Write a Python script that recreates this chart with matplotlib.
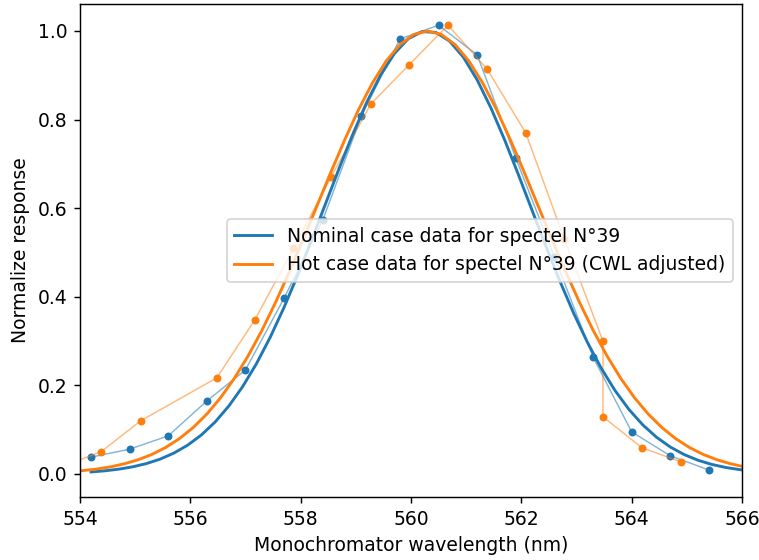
import matplotlib
matplotlib.use("Agg")
import matplotlib.pyplot as plt

# Mesures (points) - cas nominal
nom_wl = [554.2, 554.9, 555.6, 556.3, 557.0, 557.7, 558.4, 559.1, 559.8,
          560.5, 561.2, 561.9, 562.6, 563.3, 564.0, 564.7, 565.4]
nom_resp = [0.038, 0.056, 0.086, 0.165, 0.235, 0.397, 0.573, 0.808, 0.982,
            1.013, 0.946, 0.713, 0.49, 0.264, 0.095, 0.041, 0.009]

# Mesures (points) - cas chaud, CWL ajustée
hot_wl = [553.68, 554.38, 555.1, 556.48, 557.17, 557.87, 558.55, 559.27, 559.96,
          560.67, 561.38, 562.08, 562.78, 563.48, 563.48, 564.19, 564.9]
hot_resp = [0.017, 0.05, 0.12, 0.217, 0.348, 0.51, 0.670, 0.835, 0.923,
            1.013, 0.914, 0.770, 0.53, 0.300, 0.129, 0.059, 0.027]

# Courbes ajustées
nom_fit_wl = [554.2, 554.45, 554.7, 554.95, 555.2, 555.45, 555.7, 555.95, 556.2,
              556.45, 556.7, 556.95, 557.2, 557.45, 557.7, 557.95, 558.2, 558.45,
              558.7, 558.95, 559.2, 559.45, 559.7, 559.95, 560.2, 560.45, 560.7,
              560.95, 561.2, 561.45, 561.7, 561.95, 562.2, 562.45, 562.7, 562.95,
              563.2, 563.45, 563.7, 563.95, 564.2, 564.45, 564.7, 564.95, 565.2,
              565.45, 565.7, 565.95, 566.2]
nom_fit = [0.0046, 0.0071, 0.0108, 0.0160, 0.0233, 0.0334, 0.0470, 0.0649, 0.0880,
           0.1174, 0.1537, 0.1975, 0.2493, 0.3091, 0.3764, 0.4502, 0.5287, 0.6098,
           0.6907, 0.7684, 0.8396, 0.9008, 0.9493, 0.9825, 0.9986, 0.9968, 0.9771,
           0.9408, 0.8895, 0.8260, 0.7533, 0.6747, 0.5935, 0.5127, 0.4350, 0.3624,
           0.2966, 0.2383, 0.1881, 0.1458, 0.1110, 0.0830, 0.0609, 0.0439, 0.0311,
           0.0216, 0.0148, 0.0099, 0.0065]

hot_fit_wl = [553.8, 554.05, 554.3, 554.55, 554.8, 555.05, 555.3, 555.55, 555.8,
              556.05, 556.3, 556.55, 556.8, 557.05, 557.3, 557.55, 557.8, 558.05,
              558.3, 558.55, 558.8, 559.05, 559.3, 559.55, 559.8, 560.05, 560.3,
              560.55, 560.8, 561.05, 561.3, 561.55, 561.8, 562.05, 562.3, 562.55,
              562.8, 563.05, 563.3, 563.55, 563.8, 564.05, 564.3, 564.55, 564.8,
              565.05, 565.3, 565.55, 565.8, 566.05, 566.3]
hot_fit = [0.0051, 0.0076, 0.0111, 0.0160, 0.0228, 0.0319, 0.0439, 0.0596, 0.0796,
           0.1046, 0.1353, 0.1724, 0.2163, 0.2671, 0.3247, 0.3886, 0.4578, 0.5311,
           0.6065, 0.6819, 0.7548, 0.8226, 0.8825, 0.9321, 0.9692, 0.9922, 1.0,
           0.9922, 0.9692, 0.9321, 0.8825, 0.8226, 0.7548, 0.6819, 0.6065, 0.5311,
           0.4578, 0.3886, 0.3247, 0.2671, 0.2163, 0.1724, 0.1353, 0.1046, 0.0796,
           0.0596, 0.0439, 0.0319, 0.0228, 0.0160, 0.0111]

blue = "#1f77b4"
orange = "#ff7f0e"

plt.rcParams["font.size"] = 10.4

fig, ax = plt.subplots(figsize=(759 / 130, 560 / 130), dpi=130)
fig.subplots_adjust(left=0.1054, right=0.9776, top=0.9929, bottom=0.1125)

# mesures : trait fin + points
ax.plot(nom_wl, nom_resp, color=blue, lw=0.8, alpha=0.55)
ax.plot(nom_wl, nom_resp, "o", color=blue, ms=4.4, mew=0)
ax.plot(hot_wl, hot_resp, color=orange, lw=0.8, alpha=0.55)
ax.plot(hot_wl, hot_resp, "o", color=orange, ms=4.4, mew=0)

# ajustements
ax.plot(nom_fit_wl, nom_fit, color=blue, lw=1.6,
        label="Nominal case data for spectel N°39")
ax.plot(hot_fit_wl, hot_fit, color=orange, lw=1.6,
        label="Hot case data for spectel N°39 (CWL adjusted)")

ax.set_xlim(554, 566)
ax.set_ylim(-0.052, 1.061)
ax.set_xlabel("Monochromator wavelength (nm)")
ax.set_ylabel("Normalize response")
ax.legend(loc="center right")

fig.savefig("out.png", dpi=130)
